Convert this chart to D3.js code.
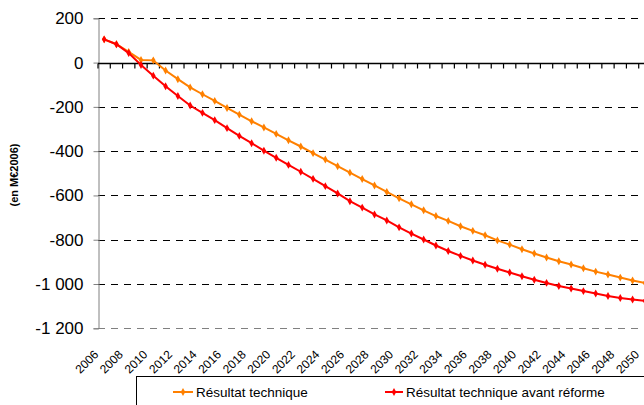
<!DOCTYPE html>
<html>
<head>
<meta charset="utf-8">
<script src="https://cdn.jsdelivr.net/npm/d3@7"></script>
<style>
  body { margin: 0; background: #fff; }
  svg { display: block; font-family: Arial, "Liberation Sans", sans-serif; }
</style>
</head>
<body>
<div id="chart"></div>
<script>
var svgWidth = 644;
var svgHeight = 405;

// years on the category axis
var years = d3.range(2006, 2051);

// tick values on the value axis
var yTicks = [200, 0, -200, -400, -600, -800, -1000, -1200];

// "Résultat technique" (M€2006)
var resultat = [105, 83, 48, 12, 10, -36, -75, -112, -143, -173,
  -205, -235, -265, -293, -322, -351, -379, -409, -438, -468,
  -497, -526, -555, -584, -613, -640, -667, -693, -715, -739,
  -760, -780, -803, -822, -843, -862, -880, -897, -912, -929,
  -944, -957, -971, -984, -995];

// "Résultat technique avant réforme" (M€2006)
var avantReforme = [105, 83, 43, -11, -59, -107, -151, -194, -227, -260,
  -296, -331, -364, -398, -430, -462, -493, -525, -558, -591,
  -626, -655, -686, -713, -744, -772, -799, -826, -851, -873,
  -894, -913, -931, -948, -965, -981, -995, -1009, -1020, -1032,
  -1043, -1054, -1063, -1070, -1076];

var seriesNames = ["Résultat technique", "Résultat technique avant réforme"];
var seriesColors = ["#ff8000", "#ff0000"];

var plot = { left: 98, right: 651, top: 18.3, bottom: 328.3 };

var svg = d3.select("#chart")
  .append("svg")
  .attr("width", svgWidth)
  .attr("height", svgHeight);

var xScale = d3.scaleBand()
  .domain(years)
  .range([plot.left, plot.right]);

var yScale = d3.scaleLinear()
  .domain([-1200, 200])
  .range([plot.bottom, plot.top]);

// dashed gridlines
svg.append("g")
  .selectAll("line")
  .data(yTicks.filter(d => d !== 0))
  .enter()
  .append("line")
  .attr("x1", plot.left)
  .attr("x2", svgWidth)
  .attr("y1", d => Math.round(yScale(d)) + 0.5)
  .attr("y2", d => Math.round(yScale(d)) + 0.5)
  .attr("stroke", d => d === -1200 ? "#808080" : "#000")
  .attr("stroke-width", 1)
  .attr("stroke-dasharray", "7,6");

// y axis
var yAxis = d3.axisLeft(yScale)
  .tickValues(yTicks)
  .tickSize(5)
  .tickPadding(10)
  .tickFormat(d => d3.format(",")(d).replace(/,/g, " ").replace("\u2212", "-"));

var yAxisG = svg.append("g")
  .attr("transform", `translate(${plot.left + 0.5}, 0)`)
  .call(yAxis);

yAxisG.select(".domain").attr("stroke", "#808080");
yAxisG.selectAll(".tick line").attr("stroke", "#808080");
yAxisG.selectAll(".tick text")
  .attr("font-size", 17)
  .attr("font-family", "Arial, 'Liberation Sans', sans-serif")
  .attr("fill", "#000");

// zero line with category ticks
var zeroY = Math.round(yScale(0)) + 0.5;

svg.append("line")
  .attr("x1", plot.left)
  .attr("x2", svgWidth)
  .attr("y1", zeroY)
  .attr("y2", zeroY)
  .attr("stroke", "#000")
  .attr("stroke-width", 1.5);

svg.append("g")
  .selectAll("line")
  .data(years.concat([2051]))
  .enter()
  .append("line")
  .attr("x1", d => d === 2051 ? plot.right : xScale(d))
  .attr("x2", d => d === 2051 ? plot.right : xScale(d))
  .attr("y1", zeroY)
  .attr("y2", zeroY + 5)
  .attr("stroke", "#000")
  .attr("stroke-width", 1.2);

// rotated year labels, every two years
svg.append("g")
  .selectAll("text")
  .data(years.filter(d => (d - 2006) % 2 === 0))
  .enter()
  .append("text")
  .attr("transform", d => `translate(${xScale(d) + xScale.bandwidth() / 2 - 5}, ${plot.bottom + 27}) rotate(-45)`)
  .attr("text-anchor", "end")
  .attr("font-size", 12)
  .attr("fill", "#000")
  .text(d => d);

// y axis title
svg.append("text")
  .attr("transform", "translate(18, 175) rotate(-90)")
  .attr("text-anchor", "middle")
  .attr("font-size", 11)
  .attr("font-weight", "bold")
  .text("(en M€2006)");

// lines and markers
var allSeries = [resultat, avantReforme];
var line = d3.line()
  .x((d, i) => xScale(years[i]) + xScale.bandwidth() / 2)
  .y(d => yScale(d));

var marker = d3.symbol().type(d3.symbolDiamond).size(18);

allSeries.forEach(function(values, k) {
  svg.append("path")
    .datum(values)
    .attr("d", line)
    .attr("fill", "none")
    .attr("stroke", seriesColors[k])
    .attr("stroke-width", 2);

  svg.append("g")
    .selectAll("path")
    .data(values)
    .enter()
    .append("path")
    .attr("d", marker)
    .attr("transform", (d, i) => `translate(${xScale(years[i]) + xScale.bandwidth() / 2}, ${yScale(d)})`)
    .attr("fill", seriesColors[k]);
});

// legend
var legend = svg.append("g");
legend.append("rect")
  .attr("x", 136.5)
  .attr("y", 376.5)
  .attr("width", 600)
  .attr("height", 60)
  .attr("fill", "#fff")
  .attr("stroke", "#000")
  .attr("stroke-width", 1);

var legendX = [173, 385];
var legendW = [20, 18];
seriesNames.forEach(function(name, k) {
  legend.append("line")
    .attr("x1", legendX[k])
    .attr("x2", legendX[k] + legendW[k])
    .attr("y1", 392)
    .attr("y2", 392)
    .attr("stroke", seriesColors[k])
    .attr("stroke-width", 2);
  legend.append("path")
    .attr("d", marker)
    .attr("transform", `translate(${legendX[k] + legendW[k] / 2}, 392)`)
    .attr("fill", seriesColors[k]);
  legend.append("text")
    .attr("x", legendX[k] + legendW[k] + 3)
    .attr("y", 396.5)
    .attr("font-size", 13.5)
    .attr("fill", "#000")
    .text(name);
});
</script>
</body>
</html>
